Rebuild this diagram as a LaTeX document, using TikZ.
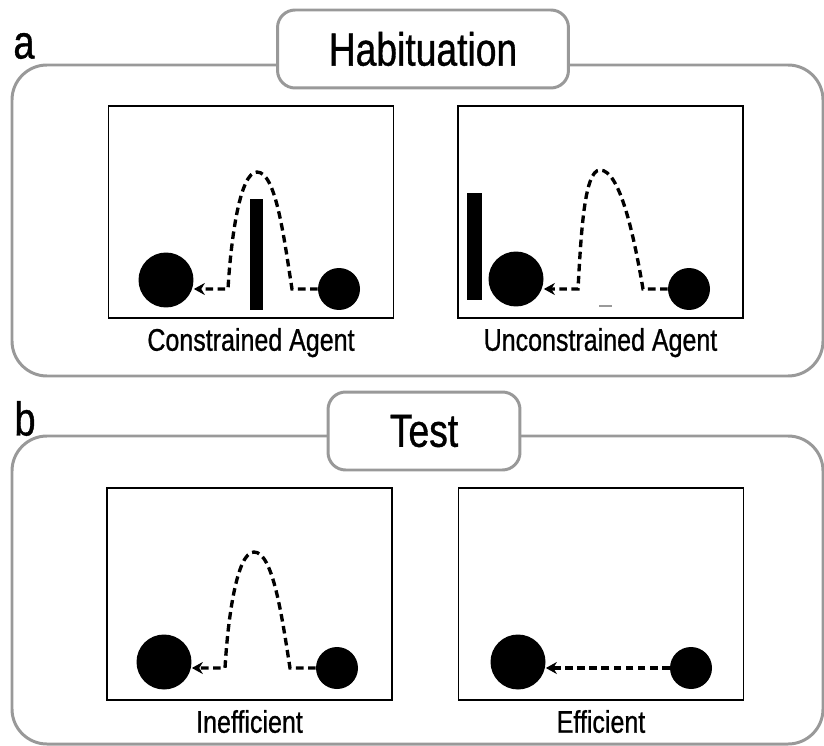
\documentclass[tikz,border=0pt]{standalone}
\usepackage{fontspec}
\setmainfont{Liberation Sans}[FakeStretch=0.8,FakeBold=0.8]
\usepackage{tikz}
\usetikzlibrary{arrows.meta,positioning}
\definecolor{framegray}{gray}{0.6}
\tikzset{>=stealth,
	group/.style={% grey frame round one row of panels
		draw=framegray,
		line width=1.7pt,
		rounded corners=0.7cm
	},
	title/.style={
		draw=framegray, fill=white,
		line width=1.7pt,
		rounded corners=10pt,
		minimum height=1.56cm,
		inner sep=0pt,
		font=\fontsize{26.5}{28}\selectfont
	},
	panel/.style={
		draw, rectangle,
		line width=0.85pt,
		minimum width=5.7cm,
		minimum height=4.24cm,
		inner sep=0pt
	},
	caption/.style={
		inner sep=0pt,
		font=\fontsize{17.8}{19}\selectfont
	},
	letter/.style={inner sep=0pt, font=\fontsize{27}{28}\selectfont},
	goal/.style={circle, fill=black, minimum size=1.1cm, inner sep=0pt},
	agent/.style={circle, fill=black, minimum size=0.84cm, inner sep=0pt},
	wall/.style={rectangle, fill=black, inner sep=0pt},
	trail/.style={
		line width=1.9pt,
		dash pattern=on 4.3pt off 2.6pt,
		-{Stealth[length=2.2mm,width=2.4mm]}
	}
}

\begin{document}
\begin{tikzpicture}[x=0.02cm,y=-0.02cm]
		\useasboundingbox (0,0) rectangle (824,746);
		
		% Row a: habituation
		\draw[group] (12,65) rectangle (823,376);
		\node[title, minimum width=5.82cm] (HB) at (423,49) {Habituation};
		\node[letter] (a) at (24,46) {a};
		
		\node[panel] (P1) at (251,212) {};
		\node[panel] (P2) at (600.5,212) {};
		\node[caption, below=0.18cm of P1] (L1) {Constrained Agent};
		\node[caption, below=0.18cm of P2] (L2) {Unconstrained Agent};
		
		\node[goal] (B1) at (166,280) {};
		\node[agent] (S1) at (339,289) {};
		\node[wall, minimum width=0.26cm, minimum height=2.22cm] (W1) at (256.5,254.5) {};
		\coordinate (T1) at (257,172);
		\draw[trail] (S1) -- (292,289) .. controls (284,238) and (276,172) .. (T1)
		.. controls (240,172) and (231,238) .. (228,289) -- (B1.east |- S1);
		
		\node[goal] (B2) at (516,279) {};
		\node[agent] (S2) at (689,289) {};
		\node[wall, minimum width=0.3cm, minimum height=2.14cm] (W2) at (474,246.5) {};
		\coordinate (T2) at (600,170);
		\draw[trail] (S2) -- (643,289) .. controls (634,236) and (620,170) .. (T2)
		.. controls (584,170) and (581,236) .. (578,289) -- (B2.east |- S2);
		\draw[framegray, line width=0.8pt] (599,306) -- (612,306);
		
		% Row b: test
		\draw[group] (12,436) rectangle (823,744);
		\node[title, minimum width=3.84cm] (TS) at (424,431) {Test};
		\node[letter] (b) at (25,418.5) {b};
		
		\node[panel] (P3) at (249.5,594) {};
		\node[panel] (P4) at (601,594) {};
		\node[caption, below=0.18cm of P3] (L3) {Inefficient};
		\node[caption, below=0.18cm of P4] (L4) {Efficient};
		
		\node[goal] (B3) at (164,662) {};
		\node[agent] (S3) at (337,668) {};
		\coordinate (T3) at (254,552);
		\draw[trail] (S3) -- (290,668) .. controls (282,617) and (273,552) .. (T3)
		.. controls (237,552) and (228,617) .. (225,668) -- (B3.east |- S3);
		
		\node[goal] (B4) at (518,662) {};
		\node[agent] (S4) at (691,668) {};
		\draw[trail] (S4) -- (B4.east |- S4);
	\end{tikzpicture}
\end{document}
